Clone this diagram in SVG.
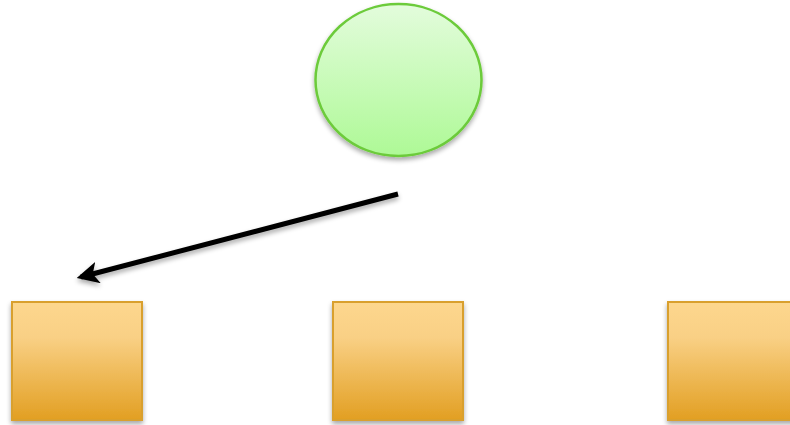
<svg xmlns="http://www.w3.org/2000/svg" width="790" height="425" viewBox="0 0 790 425">
<defs>
<linearGradient id="gGreen" x1="0" y1="0" x2="0" y2="1">
<stop offset="0" stop-color="#e3fcdc"/>
<stop offset="1" stop-color="#aef996"/>
</linearGradient>
<linearGradient id="gOrange" x1="0" y1="0" x2="0" y2="1">
<stop offset="0" stop-color="#fdd78e"/>
<stop offset="0.3" stop-color="#f9d085"/>
<stop offset="1" stop-color="#e29f22"/>
</linearGradient>
<filter id="shadow" x="-10%" y="-10%" width="130%" height="130%">
<feGaussianBlur in="SourceAlpha" stdDeviation="2.5"/>
<feOffset dx="0" dy="3" result="b"/>
<feComponentTransfer><feFuncA type="linear" slope="0.35"/></feComponentTransfer>
<feMerge><feMergeNode/><feMergeNode in="SourceGraphic"/></feMerge>
</filter>
<marker id="arrow" viewBox="0 0 10 10" refX="8" refY="5" markerWidth="4.4" markerHeight="4.4" orient="auto-start-reverse" markerUnits="strokeWidth">
<path d="M0,0 L10,5 L0,10 L2.5,5 Z" fill="#000"/>
</marker>
<style>
.box{fill:url(#gOrange);stroke:#d9a02e;stroke-width:2;filter:url(#shadow)}
.circle{fill:url(#gGreen);stroke:#6ccb3a;stroke-width:2.5;filter:url(#shadow)}
.conn{stroke:#000;stroke-width:5;fill:none;filter:url(#shadow)}
</style>
</defs>
<g id="circle-node">
<ellipse class="circle" cx="398.5" cy="80" rx="83" ry="76"/>
</g>
<g id="box1"><rect class="box" x="12" y="302" width="130" height="118"/></g>
<g id="box2"><rect class="box" x="333" y="302" width="130" height="118"/></g>
<g id="box3"><rect class="box" x="668" y="302" width="130" height="118"/></g>
<g id="connectors">
<line class="conn" x1="398" y1="194" x2="81" y2="277" marker-end="url(#arrow)"/>
</g>
</svg>
